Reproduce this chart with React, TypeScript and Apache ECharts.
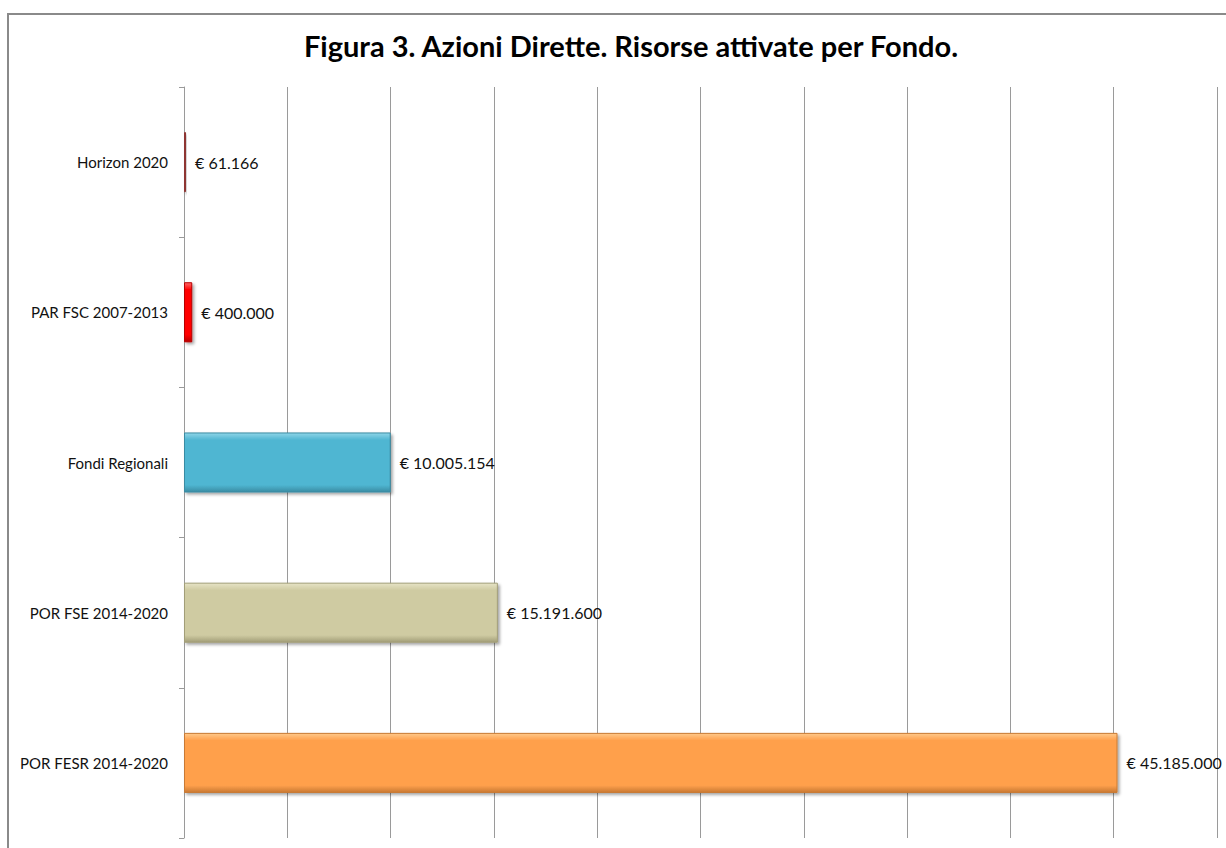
import React, { useEffect, useRef } from "react";
import * as echarts from "echarts";

const categories = [
  "Horizon 2020",
  "PAR FSC 2007-2013",
  "Fondi Regionali",
  "POR FSE 2014-2020",
  "POR FESR 2014-2020",
];
const values = [61166, 400000, 10005154, 15191600, 45185000];
const colors = ["#C0504D", "#FF0000", "#4FB6D2", "#CFCBA2", "#FFA04C"];
const lightColors = ["#D8817E", "#FF6A6A", "#8FD5E8", "#E6E3C6", "#FFC98A"];
const darkColors = ["#8E3532", "#B80000", "#3A8CA3", "#A29E78", "#C97A34"];
const titleText = "Figura 3. Azioni Dirette. Risorse attivate per Fondo.";

function formatEuro(v: number): string {
  const s = Math.round(v).toString();
  return "€ " + s.replace(/\B(?=(\d{3})+(?!\d))/g, ".");
}

export default function App() {
  const ref = useRef<HTMLDivElement>(null);
  useEffect(() => {
    if (!ref.current) return;
    const chart = echarts.init(ref.current, undefined, { renderer: "svg" });
    chart.setOption({
      animation: false,
      backgroundColor: "#ffffff",
      textStyle: { fontFamily: "Lato" },
      title: {
        text: titleText,
        left: 626,
        textAlign: "center",
        top: 26,
        textStyle: {
          fontFamily: "Lato",
          fontWeight: "bold",
          fontSize: 29,
          color: "#000000",
        },
      },
      graphic: [
        {
          type: "rect",
          shape: { x: 8, y: 14, width: 1240, height: 860 },
          style: { fill: "none", stroke: "#8a8a8a", lineWidth: 2 },
          z: -1,
        },
      ],
      grid: { left: 184, right: 9, top: 87, bottom: 10, containLabel: false },
      xAxis: {
        type: "value",
        min: 0,
        max: 50000000,
        interval: 5000000,
        axisLabel: { show: false },
        axisLine: { show: false },
        axisTick: { show: false },
        splitLine: { show: true, lineStyle: { color: "#9a9a9a", width: 1 } },
      },
      yAxis: {
        type: "category",
        data: categories,
        inverse: true,
        axisLine: { show: true, lineStyle: { color: "#9a9a9a", width: 1 } },
        axisTick: {
          show: true,
          length: 5,
          inside: false,
          alignWithLabel: false,
          lineStyle: { color: "#9a9a9a" },
        },
        axisLabel: {
          margin: 16,
          fontSize: 15,
          color: "#111111",
          fontFamily: "Lato",
        },
      },
      series: [
        {
          type: "bar",
          barWidth: "40%",
          barMinHeight: 2,
          data: values.map((v, i) => ({
            value: v,
            itemStyle: {
              color: new echarts.graphic.LinearGradient(0, 0, 0, 1, [
                { offset: 0, color: lightColors[i] },
                { offset: 0.12, color: colors[i] },
                { offset: 0.88, color: colors[i] },
                { offset: 1, color: darkColors[i] },
              ]),
              borderColor: darkColors[i],
              borderWidth: 1,
              shadowColor: "rgba(0,0,0,0.35)",
              shadowBlur: 3,
              shadowOffsetX: 2,
              shadowOffsetY: 2,
            },
          })),
          label: {
            show: true,
            position: "right",
            distance: 9,
            fontSize: 16,
            color: "#111111",
            fontFamily: "Lato",
            formatter: (p: any) => formatEuro(p.value),
          },
        },
      ],
    });
    return () => chart.dispose();
  }, []);
  return (
    <div
      ref={ref}
      style={{ position: "absolute", left: 0, top: 0, width: 1226, height: 848 }}
    />
  );
}
